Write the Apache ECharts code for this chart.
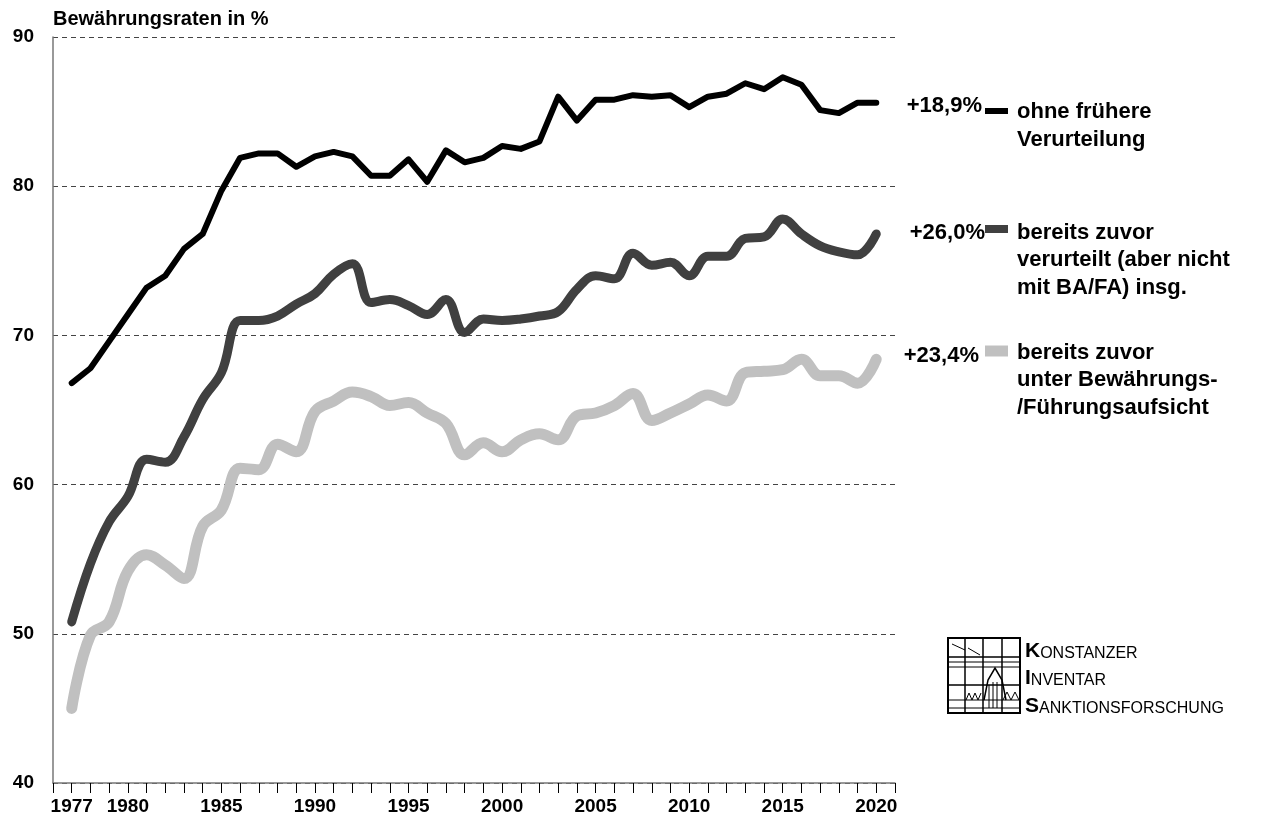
<!DOCTYPE html>
<html>
<head>
<meta charset="UTF-8">
<title>Bewährungsraten</title>
<script src="https://cdn.jsdelivr.net/npm/echarts@6.0.0/dist/echarts.min.js"></script>
<style>
  html, body { margin: 0; padding: 0; background: #fff; }
  #chart { width: 1261px; height: 825px; }
</style>
</head>
<body>
<div id="chart"></div>
<script>
// Jahre 1977 - 2020
var years = [];
for (var y = 1977; y <= 2020; y++) years.push(y);

var tickLabels = [1977, 1980, 1985, 1990, 1995, 2000, 2005, 2010, 2015, 2020];

// ohne frühere Verurteilung
var ohneFruehere = [
  66.8, 67.8, 69.6, 71.4, 73.2, 74.0, 75.8, 76.8, 79.7, 81.9,
  82.2, 82.2, 81.3, 82.0, 82.3, 82.0, 80.7, 80.7, 81.8, 80.3,
  82.4, 81.6, 81.9, 82.7, 82.5, 83.0, 86.0, 84.4, 85.8, 85.8,
  86.1, 86.0, 86.1, 85.3, 86.0, 86.2, 86.9, 86.5, 87.3, 86.8,
  85.1, 84.9, 85.6, 85.6
];
// bereits zuvor verurteilt (aber nicht mit BA/FA) insg.
var zuvorVerurteilt = [
  50.8, 54.7, 57.5, 59.2, 61.7, 61.5, 63.2, 65.7, 67.5, 71.0,
  71.0, 71.3, 72.1, 72.8, 74.1, 74.8, 72.2, 72.4, 72.0, 71.4,
  72.4, 70.2, 71.1, 71.0, 71.1, 71.3, 71.6, 73.1, 74.0, 73.8,
  75.5, 74.7, 74.9, 74.0, 75.3, 75.3, 76.5, 76.6, 77.8, 76.8,
  76.0, 75.6, 75.4, 76.8
];
// bereits zuvor unter Bewährungs-/Führungsaufsicht
var zuvorAufsicht = [
  45.0, 49.9, 50.8, 54.2, 55.3, 54.6, 53.7, 57.2, 58.3, 61.1,
  61.0, 62.7, 62.2, 64.9, 65.6, 66.2, 65.9, 65.3, 65.5, 64.8,
  64.1, 62.0, 62.8, 62.2, 63.0, 63.4, 63.0, 64.6, 64.8, 65.3,
  66.1, 64.3, 64.8, 65.4, 66.0, 65.6, 67.5, 67.6, 67.7, 68.4,
  67.3, 67.3, 66.8, 68.4
];

var diffLabels = ['+18,9%', '+26,0%', '+23,4%'];
var legendLines = [
  ['ohne frühere', 'Verurteilung'],
  ['bereits zuvor', 'verurteilt (aber nicht', 'mit BA/FA) insg.'],
  ['bereits zuvor', 'unter Bewährungs-', '/Führungsaufsicht']
];
var colors = ['#000000', '#404040', '#c0c0c0'];

function pairs(vals) {
  return vals.map(function (v, i) { return [years[i], v]; });
}

var FONT = '"Liberation Sans", Arial, sans-serif';

var chart = echarts.init(document.getElementById('chart'));

// Legende rechts
var graphics = [];
var legendY = [[112, 140], [233, 260, 288], [353, 380, 408]];
var diffY = [106, 233, 356];
var diffX = [982, 985, 979];
var segY = [111, 229, 351];
var segH = [6, 8, 11];
for (var k = 0; k < 3; k++) {
  graphics.push({
    type: 'text', x: diffX[k], y: diffY[k],
    style: { text: diffLabels[k], fill: '#000', font: 'bold 22px ' + FONT,
      align: 'right', verticalAlign: 'middle' }
  });
  graphics.push({
    type: 'rect', shape: { x: 985, y: segY[k] - segH[k] / 2, width: 23, height: segH[k] },
    style: { fill: colors[k] }
  });
  for (var j = 0; j < legendLines[k].length; j++) {
    graphics.push({
      type: 'text', x: 1017, y: legendY[k][j],
      style: { text: legendLines[k][j], fill: '#000', font: 'bold 22px ' + FONT,
        align: 'left', verticalAlign: 'middle' }
    });
  }
}

// Logo KIS
var logo = [
  { type: 'rect', shape: { x: 948, y: 638, width: 72, height: 75 }, style: { fill: 'none', stroke: '#000', lineWidth: 2 } },
  { type: 'line', shape: { x1: 965, y1: 638, x2: 965, y2: 713 }, style: { stroke: '#000', lineWidth: 1.5 } },
  { type: 'line', shape: { x1: 983, y1: 638, x2: 983, y2: 713 }, style: { stroke: '#000', lineWidth: 1.5 } },
  { type: 'line', shape: { x1: 1002, y1: 638, x2: 1002, y2: 713 }, style: { stroke: '#000', lineWidth: 1.5 } },
  { type: 'line', shape: { x1: 948, y1: 657, x2: 1020, y2: 657 }, style: { stroke: '#000', lineWidth: 1.5 } },
  { type: 'line', shape: { x1: 948, y1: 662, x2: 1020, y2: 662 }, style: { stroke: '#000', lineWidth: 1 } },
  { type: 'line', shape: { x1: 948, y1: 667, x2: 1020, y2: 667 }, style: { stroke: '#000', lineWidth: 1 } },
  { type: 'line', shape: { x1: 948, y1: 685, x2: 1020, y2: 685 }, style: { stroke: '#000', lineWidth: 1.5 } },
  { type: 'line', shape: { x1: 948, y1: 700, x2: 1020, y2: 700 }, style: { stroke: '#000', lineWidth: 1 } },
  { type: 'line', shape: { x1: 948, y1: 708, x2: 1020, y2: 708 }, style: { stroke: '#000', lineWidth: 1 } },
  { type: 'line', shape: { x1: 952, y1: 644, x2: 965, y2: 650 }, style: { stroke: '#000', lineWidth: 1 } },
  { type: 'line', shape: { x1: 968, y1: 648, x2: 980, y2: 655 }, style: { stroke: '#000', lineWidth: 1 } },
  { type: 'polyline', shape: { points: [[984, 700], [988, 680], [995, 668], [1002, 680], [1006, 700]] }, style: { fill: 'none', stroke: '#000', lineWidth: 1.5 } },
  { type: 'line', shape: { x1: 989, y1: 685, x2: 989, y2: 708 }, style: { stroke: '#000', lineWidth: 1 } },
  { type: 'line', shape: { x1: 993, y1: 682, x2: 993, y2: 708 }, style: { stroke: '#000', lineWidth: 1 } },
  { type: 'line', shape: { x1: 997, y1: 682, x2: 997, y2: 708 }, style: { stroke: '#000', lineWidth: 1 } },
  { type: 'polyline', shape: { points: [[966, 700], [969, 693], [972, 700], [975, 693], [978, 700], [981, 693]] }, style: { fill: 'none', stroke: '#000', lineWidth: 1 } },
  { type: 'polyline', shape: { points: [[1003, 700], [1007, 692], [1011, 700], [1015, 692], [1019, 700]] }, style: { fill: 'none', stroke: '#000', lineWidth: 1 } }
];
graphics = graphics.concat(logo);

var logoText = [['K', 'ONSTANZER'], ['I', 'NVENTAR'], ['S', 'ANKTIONSFORSCHUNG']];
var logoY = [651, 678, 706];
for (var m = 0; m < 3; m++) {
  graphics.push({
    type: 'text', x: 1025, y: logoY[m],
    style: {
      text: '{b|' + logoText[m][0] + '}{s|' + logoText[m][1] + '}',
      verticalAlign: 'middle', align: 'left',
      rich: {
        b: { fontSize: 21, fontFamily: FONT, fill: '#000', fontWeight: 'bold', verticalAlign: 'bottom' },
        s: { fontSize: 16, fontFamily: FONT, fill: '#000', verticalAlign: 'bottom' }
      }
    }
  });
}

graphics.push({
  type: 'text', x: 53, y: 19,
  style: { text: 'Bewährungsraten in %', fill: '#000', font: 'bold 20px ' + FONT,
    align: 'left', verticalAlign: 'middle' }
});

var option = {
  backgroundColor: '#fff',
  animation: false,
  grid: { left: 53, right: 366, top: 37, bottom: 42 },
  xAxis: {
    type: 'value',
    min: 1976,
    max: 2021,
    interval: 1,
    axisLine: { lineStyle: { color: '#777', width: 1.5 } },
    axisTick: { show: true, length: 10, lineStyle: { color: '#000', width: 1 } },
    axisLabel: {
      margin: 14,
      color: '#000',
      fontSize: 19,
      fontWeight: 'bold',
      fontFamily: FONT,
      showMinLabel: true,
      showMaxLabel: true,
      formatter: function (v) {
        return tickLabels.indexOf(v) >= 0 ? String(v) : '';
      }
    },
    splitLine: { show: false }
  },
  yAxis: {
    type: 'value',
    min: 40,
    max: 90,
    interval: 10,
    axisLine: { show: true, lineStyle: { color: '#777', width: 1.5 } },
    axisTick: { show: false },
    axisLabel: {
      margin: 19,
      color: '#000',
      fontSize: 19,
      fontWeight: 'bold',
      fontFamily: FONT
    },
    splitLine: { show: true, lineStyle: { color: '#444', type: [5, 4], width: 1 } }
  },
  series: [
    {
      name: 'bereits zuvor unter Bewährungs-/Führungsaufsicht',
      type: 'line',
      data: pairs(zuvorAufsicht),
      smooth: 0.4,
      symbol: 'none',
      lineStyle: { color: colors[2], width: 11, cap: 'round', join: 'round' }
    },
    {
      name: 'bereits zuvor verurteilt (aber nicht mit BA/FA) insg.',
      type: 'line',
      data: pairs(zuvorVerurteilt),
      smooth: 0.4,
      symbol: 'none',
      lineStyle: { color: colors[1], width: 9, cap: 'round', join: 'round' }
    },
    {
      name: 'ohne frühere Verurteilung',
      type: 'line',
      data: pairs(ohneFruehere),
      smooth: false,
      symbol: 'none',
      lineStyle: { color: colors[0], width: 6, cap: 'round', join: 'round' }
    }
  ],
  graphic: graphics
};

chart.setOption(option);
</script>
</body>
</html>
